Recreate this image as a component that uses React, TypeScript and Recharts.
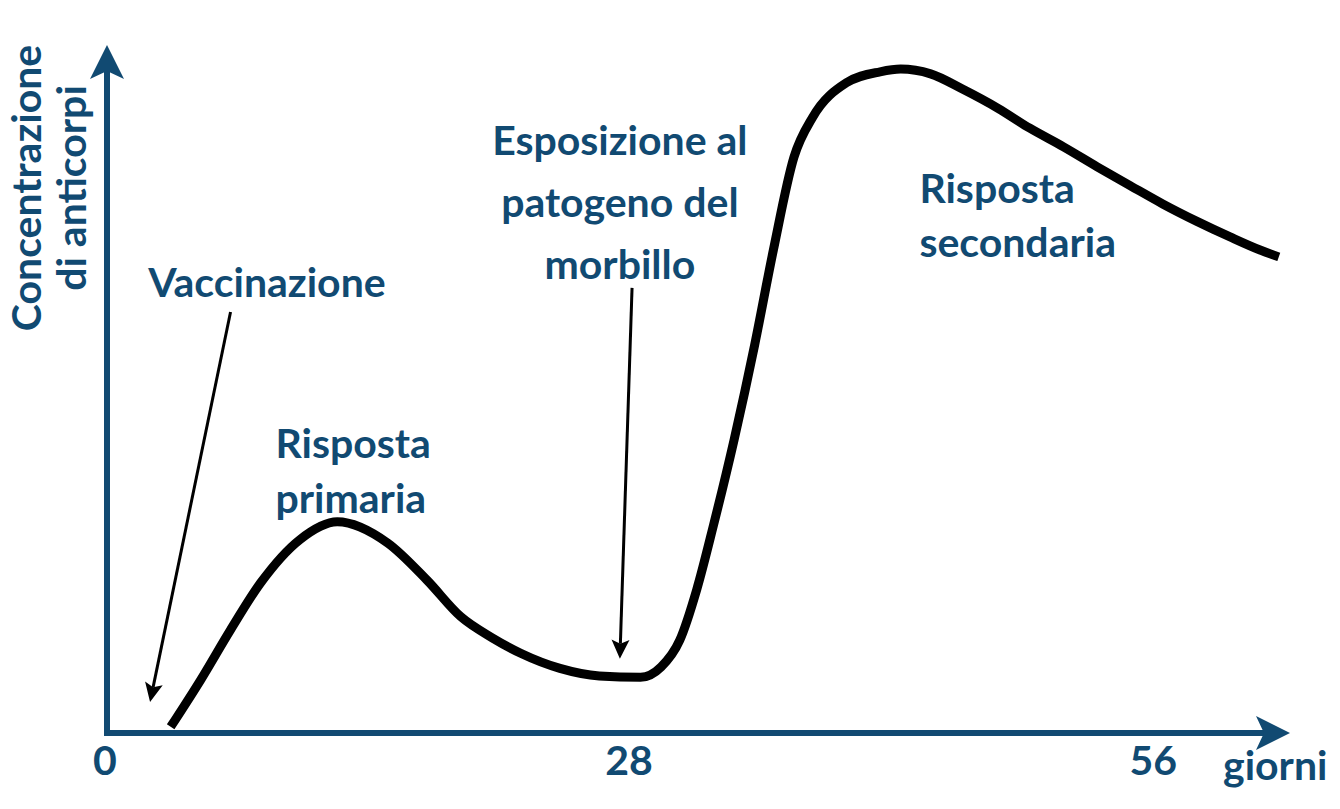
import { Line, LineChart, ReferenceDot, ReferenceLine, XAxis, YAxis } from "recharts";

// curve (day -> antibody level, 0..100 arbitrary units)
const days = [
  3.4, 5.0, 6.6, 8.2, 10.3, 12.3, 15.0, 17.1, 18.9, 20.6, 22.1, 24.2, 26.3, 28.5, 29.6, 30.6,
  31.5, 32.4, 33.5, 34.6, 35.6, 36.7, 37.7, 39.5, 41.3, 42.4, 44.0, 45.7, 47.6, 49.3, 51.1,
  52.9, 54.7, 56.4, 58.2, 60.0, 61.6, 62.6,
];
const antibodies = [
  0.9, 7.7, 15.0, 21.8, 28.1, 30.7, 27.6, 22.2, 16.9, 13.8, 11.6, 9.4, 8.3, 8.1, 9.6, 13.5,
  20.8, 30.2, 42.6, 56.4, 70.2, 83.7, 89.5, 94.5, 96.1, 96.5, 95.8, 93.6, 90.8, 87.9, 85.2,
  82.3, 79.5, 76.9, 74.4, 72.1, 70.2, 69.2,
];

const dayTicks = [0, 28, 56];
const xTitle = "giorni";
const yTitle = ["Concentrazione", "di anticorpi"];

const notes = [
  { id: "vacc", lines: ["Vaccinazione"], day: 2.2, level: 63.4, align: "start" },
  { id: "prim", lines: ["Risposta", "primaria"], day: 9.0, level: 40.0, align: "start" },
  { id: "espo", lines: ["Esposizione al", "patogeno del", "morbillo"], day: 27.4, level: 84.0, align: "middle" },
  { id: "sec", lines: ["Risposta", "secondaria"], day: 43.4, level: 77.0, align: "start" },
];

const pointers = [
  { id: "vacc", from: { x: 6.6, y: 61.2 }, to: { x: 2.3, y: 4.5 } },
  { id: "espo", from: { x: 28.05, y: 64.7 }, to: { x: 27.4, y: 10.8 } },
];

const data = days.map((d, i) => ({ day: d, level: antibodies[i] }));

const blue = "#114a72";
const font = "Lato, 'Open Sans', sans-serif";
const fontSize = 41;
const lineGap: Record<string, number> = { vacc: 0, prim: 55, espo: 62, sec: 54 };

function arrowShape(color: string, width: number, len: number, half: number, notch: number, cap = "butt") {
  return (p: any) => {
    const { x1, y1, x2, y2 } = p;
    const dx = x2 - x1;
    const dy = y2 - y1;
    const l = Math.hypot(dx, dy) || 1;
    const ux = dx / l;
    const uy = dy / l;
    const nx = -uy;
    const ny = ux;
    const bx = x2 - ux * len;
    const by = y2 - uy * len;
    const mx = x2 - ux * (len - notch);
    const my = y2 - uy * (len - notch);
    return (
      <g>
        <line x1={x1} y1={y1} x2={mx} y2={my} stroke={color} strokeWidth={width} strokeLinecap={cap as any} />
        <polygon
          points={`${x2},${y2} ${bx + nx * half},${by + ny * half} ${mx},${my} ${bx - nx * half},${by - ny * half}`}
          fill={color}
        />
      </g>
    );
  };
}

const axisArrow = arrowShape(blue, 6, 34, 17, 8, "square");
const pointerArrow = arrowShape("#000", 3, 19, 9, 4);

function NoteText({ cx, cy, note }: any) {
  const gap = lineGap[note.id];
  return (
    <text
      x={cx}
      y={cy}
      textAnchor={note.align}
      fill={blue}
      fontFamily={font}
      fontWeight={700}
      fontSize={fontSize}
    >
      {note.lines.map((t: string, i: number) => (
        <tspan key={i} x={cx} y={cy + i * gap}>
          {t}
        </tspan>
      ))}
    </text>
  );
}

function DayTick({ x, y, payload }: any) {
  return (
    <text x={x - 2} y={y + 42} textAnchor="middle" fill={blue} fontFamily={font} fontWeight={700} fontSize={fontSize}>
      {payload.value}
    </text>
  );
}

export default function App() {
  return (
    <div style={{ position: "absolute", left: 0, top: 0, background: "#fff" }}>
      <LineChart width={1340} height={809} data={data} margin={{ top: 45, right: 50, bottom: 16, left: 7 }}>
        <XAxis
          dataKey="day"
          type="number"
          domain={[0, 63.2]}
          ticks={dayTicks}
          axisLine={false}
          tickLine={false}
          tickSize={0}
          tickMargin={0}
          height={60}
          tick={<DayTick />}
          label={{
            value: xTitle,
            content: ({ viewBox }: any) => (
              <text
                x={viewBox.x + viewBox.width - 67}
                y={viewBox.y + 47}
                fill={blue}
                fontFamily={font}
                fontWeight={700}
                fontSize={fontSize}
              >
                {xTitle}
              </text>
            ),
          }}
        />
        <YAxis
          type="number"
          domain={[0, 100]}
          width={100}
          axisLine={false}
          tickLine={false}
          tick={false}
          label={{
            value: yTitle.join(" "),
            content: ({ viewBox }: any) => {
              const cy = viewBox.y + 143;
              const xs = [viewBox.x + 34, viewBox.x + 79];
              return (
                <g>
                  {yTitle.map((t, i) => (
                    <text
                      key={t}
                      x={xs[i]}
                      y={cy}
                      transform={`rotate(-90, ${xs[i]}, ${cy})`}
                      textAnchor="middle"
                      fill={blue}
                      fontFamily={font}
                      fontWeight={700}
                      fontSize={fontSize}
                    >
                      {t}
                    </text>
                  ))}
                </g>
              );
            },
          }}
        />
        <ReferenceLine
          segment={[{ x: 0, y: 0 }, { x: 63.2, y: 0 }]}
          ifOverflow="visible"
          shape={axisArrow}
        />
        <ReferenceLine
          segment={[{ x: 0, y: 0 }, { x: 0, y: 100 }]}
          ifOverflow="visible"
          shape={axisArrow}
        />
        {pointers.map((p) => (
          <ReferenceLine key={p.id} segment={[p.from, p.to]} ifOverflow="visible" shape={pointerArrow} />
        ))}
        {notes.map((n) => (
          <ReferenceDot
            key={n.id}
            x={n.day}
            y={n.level}
            r={0}
            ifOverflow="visible"
            shape={(p: any) => <NoteText {...p} note={n} />}
          />
        ))}
        <Line
          dataKey="level"
          type="monotone"
          stroke="#000"
          strokeWidth={9}
          dot={false}
          activeDot={false}
          isAnimationActive={false}
        />
      </LineChart>
    </div>
  );
}
